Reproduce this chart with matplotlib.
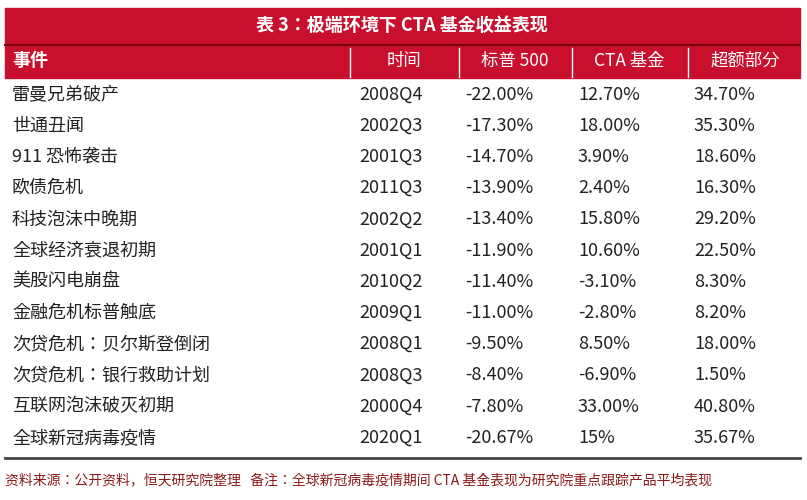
import matplotlib.pyplot as plt
from matplotlib import font_manager
from matplotlib.patches import Rectangle

# register the CJK font directly so the name lookup cannot miss it
cjk_files = [f for f in font_manager.findSystemFonts() if "cjk" in f.lower()]
for f in cjk_files:
    try:
        font_manager.fontManager.addfont(f)
    except Exception:
        pass
cjk_names = sorted({font_manager.FontProperties(fname=f).get_name() for f in cjk_files})
family = [n for n in cjk_names if "SC" in n] or cjk_names or ["Noto Sans CJK SC"]
plt.rcParams["font.family"] = family[:1] + ["DejaVu Sans"]

TITLE = "表 3：极端环境下 CTA 基金收益表现"
HEADERS = ["事件", "时间", "标普 500", "CTA 基金", "超额部分"]
EVENTS = ["雷曼兄弟破产", "世通丑闻", "911 恐怖袭击", "欧债危机", "科技泡沫中晚期",
          "全球经济衰退初期", "美股闪电崩盘", "金融危机标普触底", "次贷危机：贝尔斯登倒闭",
          "次贷危机：银行救助计划", "互联网泡沫破灭初期", "全球新冠病毒疫情"]
PERIODS = ["2008Q4", "2002Q3", "2001Q3", "2011Q3", "2002Q2", "2001Q1",
           "2010Q2", "2009Q1", "2008Q1", "2008Q3", "2000Q4", "2020Q1"]
SP500 = ["-22.00%", "-17.30%", "-14.70%", "-13.90%", "-13.40%", "-11.90%",
         "-11.40%", "-11.00%", "-9.50%", "-8.40%", "-7.80%", "-20.67%"]
CTA = ["12.70%", "18.00%", "3.90%", "2.40%", "15.80%", "10.60%",
       "-3.10%", "-2.80%", "8.50%", "-6.90%", "33.00%", "15%"]
EXCESS = ["34.70%", "35.30%", "18.60%", "16.30%", "29.20%", "22.50%",
          "8.30%", "8.20%", "18.00%", "1.50%", "40.80%", "35.67%"]
FOOTNOTE = "资料来源：公开资料，恒天研究院整理   备注：全球新冠病毒疫情期间 CTA 基金表现为研究院重点跟踪产品平均表现"

W, H = 807, 500
RED = "#c8102e"

fig = plt.figure(figsize=(W / 100, H / 100), dpi=100)
ax = fig.add_axes([0, 0, 1, 1])
ax.set_xlim(0, W)
ax.set_ylim(H, 0)
ax.axis("off")

# title bar + header
ax.add_patch(Rectangle((5, 8), 795, 35, color=RED))
ax.text(402, 25, TITLE, color="white", fontsize=13, fontweight="bold", ha="center", va="center")
ax.plot([5, 800], [44.5, 44.5], color="#7a0010", lw=1.5)
ax.add_patch(Rectangle((5, 46), 795, 32, color=RED))
ax.text(12, 61, HEADERS[0], color="white", fontsize=13, fontweight="bold", va="center")
for sx in [350, 459, 572, 688]:
    ax.plot([sx, sx], [48, 77], color="white", lw=1)
for cx, h in zip([404, 515, 629, 745], HEADERS[1:]):
    ax.text(cx, 61, h, color="white", fontsize=12.5, ha="center", va="center")

# rows
top, rh = 80, 31.2
col_x = [359, 465, 578, 694]
for i, ev in enumerate(EVENTS):
    yc = top + rh * (i + 0.5) - 1
    ax.text(12, yc, ev, fontsize=13, va="center", color="#222222")
    for x, v in zip(col_x, [PERIODS[i], SP500[i], CTA[i], EXCESS[i]]):
        ax.text(x, yc, v, fontsize=13, va="center", color="#222222")
ax.plot([5, 800], [458, 458], color="#444444", lw=2)

ax.text(5, 480, FOOTNOTE, fontsize=10, color="#8b1a1a", va="center")

fig.savefig("out.png", dpi=100, facecolor="white")
